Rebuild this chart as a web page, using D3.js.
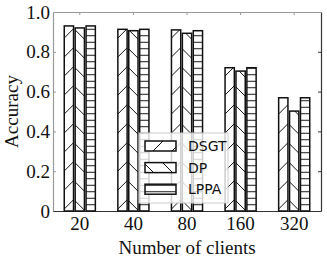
<!DOCTYPE html>
<html>
<head>
<meta charset="utf-8">
<script src="https://cdn.jsdelivr.net/npm/d3@7"></script>
<style>
  body { margin: 0; background: #fff; }
  svg { display: block; }
</style>
</head>
<body>
<div id="chart"></div>
<script>
// Données
const clients = ["20", "40", "80", "160", "320"];
const series = ["DSGT", "DP", "LPPA"];
const dsgt = [0.93, 0.913, 0.91, 0.72, 0.569];
const dp = [0.92, 0.906, 0.893, 0.703, 0.502];
const lppa = [0.93, 0.913, 0.906, 0.72, 0.569];
const yTicks = [0, 0.2, 0.4, 0.6, 0.8, 1.0];

const W = 327, H = 258;
const mLeft = 53, mRight = 321, mTop = 12, mBottom = 211;

const valeurs = { DSGT: dsgt, DP: dp, LPPA: lppa };
const motifs = { DSGT: "hDSGT", DP: "hDP", LPPA: "hLPPA" };

const svg = d3.select("#chart").append("svg")
  .attr("width", W).attr("height", H);

// motifs de hachures
const defs = svg.append("defs");
const s = 19;
defs.append("pattern").attr("id", "hDSGT")
  .attr("patternUnits", "userSpaceOnUse").attr("width", s).attr("height", s)
  .append("path")
  .attr("d", `M0,${s} L${s},0 M-2,2 L2,-2 M${s - 2},${s + 2} L${s + 2},${s - 2}`)
  .attr("stroke", "#111").attr("stroke-width", 1);
defs.append("pattern").attr("id", "hDP")
  .attr("patternUnits", "userSpaceOnUse").attr("width", s).attr("height", s)
  .append("path")
  .attr("d", `M0,0 L${s},${s} M-2,${s - 2} L2,${s + 2} M${s - 2},-2 L${s + 2},2`)
  .attr("stroke", "#111").attr("stroke-width", 1);
const hs = 6.5;
defs.append("pattern").attr("id", "hLPPA")
  .attr("patternUnits", "userSpaceOnUse").attr("width", 20).attr("height", hs)
  .append("path")
  .attr("d", `M0,${hs / 2} L20,${hs / 2}`)
  .attr("stroke", "#111").attr("stroke-width", 1);

const x0 = d3.scaleBand().domain(clients).range([mLeft, mRight])
  .paddingInner(0.42).paddingOuter(0.21);
const x1 = d3.scaleBand().domain(series).range([0, x0.bandwidth()])
  .paddingInner(0.15);
const y = d3.scaleLinear().domain([0, 1]).range([mBottom, mTop]);

const serif = "'Liberation Serif', 'Times New Roman', serif";

// axes
const axG = svg.append("g");

const gL = axG.append("g").attr("transform", `translate(${mLeft},0)`)
  .call(d3.axisLeft(y).tickValues(yTicks).tickSize(-3).tickSizeOuter(0).tickPadding(3)
    .tickFormat(d => d === 0 ? "0" : d.toFixed(1)));
gL.selectAll("path, line").attr("stroke", "#9a9a9a");

const gR = axG.append("g").attr("transform", `translate(${mRight},0)`)
  .call(d3.axisRight(y).tickValues(yTicks).tickSize(-3).tickSizeOuter(0).tickFormat(""));
gR.selectAll("path, line").attr("stroke", "#333");

const gT = axG.append("g").attr("transform", `translate(0,${mTop})`)
  .call(d3.axisTop(x0).tickSize(-3).tickSizeOuter(0).tickFormat(""));
gT.selectAll("path, line").attr("stroke", "#9a9a9a");

const gB = axG.append("g").attr("transform", `translate(0,${mBottom})`)
  .call(d3.axisBottom(x0).tickSize(-3).tickSizeOuter(0).tickPadding(6));
gB.selectAll("path, line").attr("stroke", "#333");

axG.selectAll(".tick text")
  .attr("font-family", serif).attr("font-size", 19).attr("fill", "#111");
axG.selectAll(".domain").attr("stroke-width", 1.2);

// barres
const groupes = svg.append("g").selectAll("g")
  .data(clients)
  .join("g")
  .attr("transform", d => `translate(${x0(d)},0)`);

groupes.selectAll("g")
  .data((d, i) => series.map(k => ({ k, v: valeurs[k][i] })))
  .join("g")
  .each(function (d) {
    const g = d3.select(this);
    const xx = x1(d.k), yy = y(d.v), w = x1.bandwidth(), h = mBottom - y(d.v);
    g.append("rect").attr("x", xx).attr("y", yy).attr("width", w).attr("height", h)
      .attr("fill", "#fff");
    g.append("rect").attr("x", xx).attr("y", yy).attr("width", w).attr("height", h)
      .attr("fill", `url(#${motifs[d.k]})`)
      .attr("stroke", "#111").attr("stroke-width", 1.5);
  });

// légende
const leg = svg.append("g");
leg.append("rect").attr("x", 139).attr("y", 133).attr("width", 89).attr("height", 70)
  .attr("fill", "#fff").attr("fill-opacity", 0.8)
  .attr("stroke", "#ccc").attr("stroke-width", 1);
series.forEach((k, i) => {
  const yy = 141 + i * 21.6;
  leg.append("rect").attr("x", 145).attr("y", yy).attr("width", 31).attr("height", 10)
    .attr("fill", "#fff");
  leg.append("rect").attr("x", 145).attr("y", yy).attr("width", 31).attr("height", 10)
    .attr("fill", `url(#${motifs[k]})`)
    .attr("stroke", "#111").attr("stroke-width", 1.5);
  leg.append("text").attr("x", 188).attr("y", yy + 10)
    .attr("font-family", "'DejaVu Sans', sans-serif").attr("font-size", 14)
    .attr("fill", "#111").text(k);
});

// titres
svg.append("text").attr("x", (mLeft + mRight) / 2).attr("y", 254)
  .attr("text-anchor", "middle").attr("font-family", serif).attr("font-size", 19)
  .attr("fill", "#111").text("Number of clients");
svg.append("text")
  .attr("transform", `translate(18,${(mTop + mBottom) / 2}) rotate(-90)`)
  .attr("text-anchor", "middle").attr("font-family", serif).attr("font-size", 19)
  .attr("fill", "#111").text("Accuracy");
</script>
</body>
</html>
